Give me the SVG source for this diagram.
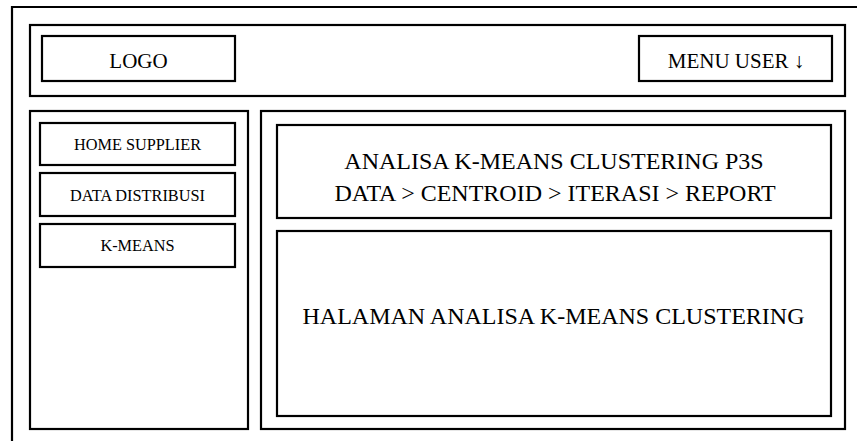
<svg xmlns="http://www.w3.org/2000/svg" width="857" height="441" viewBox="0 0 857 441">
<style>
.b{fill:#fff;stroke:#000;stroke-width:2.2}
.t{font-family:"Liberation Serif","Times New Roman",serif;fill:#000;text-anchor:middle}
.s{font-size:16.3px}
.m{font-size:21px}
.l{font-size:24px}
</style>
<rect width="857" height="441" fill="#fff"/>
<g id="frame"><path d="M12,445 V7 H862" fill="none" stroke="#000" stroke-width="2.2"/></g>
<g id="header"><rect class="b" x="30" y="25" width="815" height="71"/></g>
<g id="logo"><rect class="b" x="42" y="36" width="193" height="45"/><text class="t m" x="138.5" y="68">LOGO</text></g>
<g id="menu-user"><rect class="b" x="639" y="36" width="193" height="45"/><text class="t m" x="736" y="68">MENU USER ↓</text></g>
<g id="sidebar"><rect class="b" x="30" y="111" width="218" height="318"/></g>
<g id="home-supplier"><rect class="b" x="40" y="123" width="195" height="42"/><text class="t s" x="137.5" y="150">HOME SUPPLIER</text></g>
<g id="data-distribusi"><rect class="b" x="40" y="173" width="195" height="43"/><text class="t s" x="137.5" y="201">DATA DISTRIBUSI</text></g>
<g id="k-means"><rect class="b" x="40" y="224" width="195" height="43"/><text class="t s" x="137.5" y="251">K-MEANS</text></g>
<g id="main"><rect class="b" x="261" y="111" width="584" height="318"/></g>
<g id="title"><rect class="b" x="277" y="125" width="554" height="93"/><text class="t l" x="554" y="169">ANALISA K-MEANS CLUSTERING P3S</text><text class="t l" x="555" y="201">DATA &gt; CENTROID &gt; ITERASI &gt; REPORT</text></g>
<g id="content"><rect class="b" x="277" y="231" width="554" height="185"/><text class="t l" x="553.5" y="324">HALAMAN ANALISA K-MEANS CLUSTERING</text></g>
<g id="connectors"/>
</svg>
